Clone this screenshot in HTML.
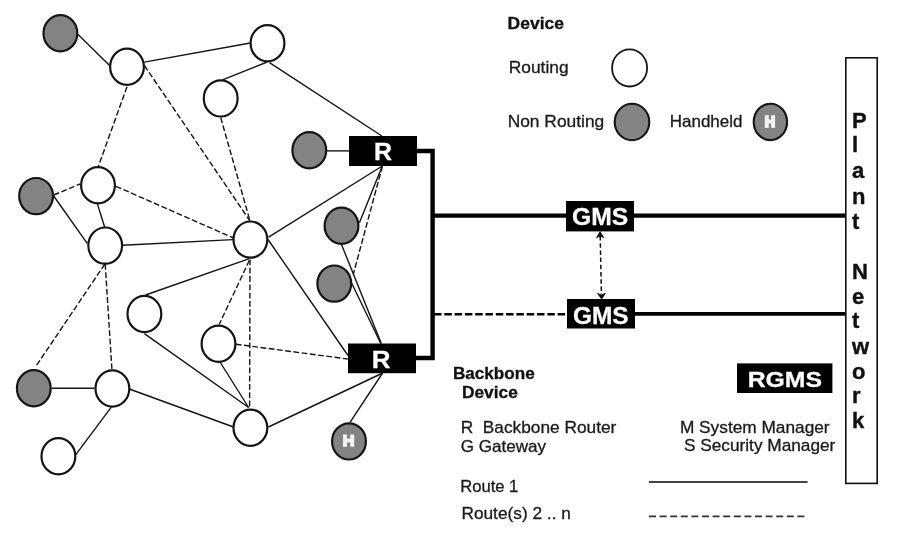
<!DOCTYPE html>
<html><head><meta charset="utf-8"><style>
html,body{margin:0;padding:0;background:#fff;}
body{width:900px;height:536px;overflow:hidden;}
svg{display:block;will-change:transform;}
text{font-family:"Liberation Sans",sans-serif;}
</style></head><body>
<svg width="900" height="536" viewBox="0 0 900 536">
<rect width="900" height="536" fill="#fff"/>
<g stroke="#141414" stroke-width="1.4" fill="none">
<line x1="78.1" y1="34.5" x2="109.3" y2="65.3"/>
<line x1="144.4" y1="62.1" x2="250.3" y2="43.0"/>
<line x1="267.2" y1="62.0" x2="222.5" y2="79.8"/>
<line x1="269.5" y1="62.6" x2="381.9" y2="136.0"/>
<line x1="53.7" y1="196.0" x2="87.2" y2="243.4"/>
<line x1="97.4" y1="203.9" x2="104.7" y2="227.2"/>
<line x1="122.7" y1="245.3" x2="233.0" y2="239.6"/>
<line x1="249.4" y1="258.6" x2="145.5" y2="295.0"/>
<line x1="268.6" y1="237.2" x2="382.3" y2="166.0"/>
<line x1="268.0" y1="239.5" x2="348.0" y2="355.5"/>
<line x1="327.0" y1="150.9" x2="349.0" y2="150.9"/>
<line x1="359.4" y1="222.7" x2="382.3" y2="166.0"/>
<line x1="341.3" y1="244.0" x2="381.3" y2="343.5"/>
<line x1="351.6" y1="283.0" x2="380.8" y2="343.5"/>
<line x1="144.4" y1="333.6" x2="248.6" y2="407.5"/>
<line x1="220.0" y1="362.0" x2="248.6" y2="407.5"/>
<line x1="52.0" y1="388.3" x2="94.5" y2="388.3"/>
<line x1="111.3" y1="407.2" x2="75.8" y2="454.7"/>
<line x1="129.3" y1="389.0" x2="233.5" y2="427.0"/>
<line x1="268.4" y1="427.0" x2="382.8" y2="373.0"/>
<line x1="350.0" y1="422.4" x2="382.6" y2="373.0"/>
<line x1="127.0" y1="86.7" x2="98.4" y2="166.3" stroke-dasharray="5.8 2.5"/>
<line x1="144.4" y1="65.5" x2="250.0" y2="221.0" stroke-dasharray="5.8 2.5"/>
<line x1="220.7" y1="117.5" x2="250.0" y2="221.0" stroke-dasharray="5.8 2.5"/>
<line x1="53.7" y1="195.0" x2="80.0" y2="184.0" stroke-dasharray="5.8 2.5"/>
<line x1="115.9" y1="186.3" x2="233.5" y2="238.0" stroke-dasharray="5.8 2.5"/>
<line x1="249.4" y1="260.2" x2="219.3" y2="324.2" stroke-dasharray="5.8 2.5"/>
<line x1="250.0" y1="259.5" x2="249.6" y2="408.0" stroke-dasharray="5.8 2.5"/>
<line x1="235.8" y1="344.2" x2="347.8" y2="359.0" stroke-dasharray="5.8 2.5"/>
<line x1="104.9" y1="264.0" x2="35.3" y2="367.2" stroke-dasharray="5.8 2.5"/>
<line x1="105.2" y1="264.0" x2="111.9" y2="368.9" stroke-dasharray="5.8 2.5"/>
<line x1="382.5" y1="166.0" x2="353.3" y2="274.2" stroke-dasharray="5.8 2.5"/>
</g>
<g stroke="#141414">
<ellipse cx="60.4" cy="33.3" rx="16.9" ry="18.1" fill="#838383" stroke-width="2.2"/>
<ellipse cx="36.1" cy="196.1" rx="16.9" ry="18.1" fill="#838383" stroke-width="2.2"/>
<ellipse cx="33.8" cy="388.3" rx="16.9" ry="18.1" fill="#838383" stroke-width="2.2"/>
<ellipse cx="309.3" cy="150.3" rx="16.9" ry="18.1" fill="#838383" stroke-width="2.2"/>
<ellipse cx="341.5" cy="225.8" rx="16.9" ry="18.1" fill="#838383" stroke-width="2.2"/>
<ellipse cx="334.3" cy="283.6" rx="16.9" ry="18.1" fill="#838383" stroke-width="2.2"/>
<ellipse cx="349.0" cy="441.4" rx="16.9" ry="18.1" fill="#838383" stroke-width="2.2"/>
<ellipse cx="127.0" cy="66.7" rx="16.9" ry="18.1" fill="#fff" stroke-width="2.2"/>
<ellipse cx="267.5" cy="43.2" rx="16.9" ry="18.1" fill="#fff" stroke-width="2.2"/>
<ellipse cx="220.7" cy="98.4" rx="16.9" ry="18.1" fill="#fff" stroke-width="2.2"/>
<ellipse cx="98.0" cy="185.2" rx="16.9" ry="18.1" fill="#fff" stroke-width="2.2"/>
<ellipse cx="105.2" cy="245.6" rx="16.9" ry="18.1" fill="#fff" stroke-width="2.2"/>
<ellipse cx="250.4" cy="239.6" rx="16.9" ry="18.1" fill="#fff" stroke-width="2.2"/>
<ellipse cx="144.4" cy="314.0" rx="16.9" ry="18.1" fill="#fff" stroke-width="2.2"/>
<ellipse cx="218.5" cy="343.7" rx="16.9" ry="18.1" fill="#fff" stroke-width="2.2"/>
<ellipse cx="112.4" cy="388.5" rx="16.9" ry="18.1" fill="#fff" stroke-width="2.2"/>
<ellipse cx="58.4" cy="456.2" rx="16.9" ry="18.1" fill="#fff" stroke-width="2.2"/>
<ellipse cx="250.4" cy="427.7" rx="16.9" ry="18.1" fill="#fff" stroke-width="2.2"/>
</g>
<rect x="349" y="136" width="68" height="30" fill="#000"/>
<rect x="348" y="343.5" width="68" height="29.7" fill="#000"/>
<polyline points="417,151 432.6,151 432.6,358 416,358" fill="none" stroke="#000" stroke-width="4.4"/>
<line x1="432" y1="215.7" x2="845" y2="215.7" stroke="#000" stroke-width="4.2"/>
<line x1="635" y1="313.8" x2="845" y2="313.8" stroke="#000" stroke-width="3.8"/>
<line x1="434" y1="314.2" x2="567" y2="314.2" stroke="#000" stroke-width="2.4" stroke-dasharray="7.5 2.8"/>
<rect x="566" y="201" width="68" height="30.4" fill="#000"/>
<rect x="567" y="299" width="68" height="29.5" fill="#000"/>
<line x1="600.2" y1="236" x2="601.4" y2="294" stroke="#111" stroke-width="1.5" stroke-dasharray="4.5 2.7"/>
<path d="M600.1 231.7 L596.7 237.5 L600.2 236 L603.6 237.5 Z" fill="#111" stroke="#111" stroke-width="1"/>
<path d="M601.6 298.9 L597.6 293.5 L601.4 295 L605.2 293.5 Z" fill="#111" stroke="#111" stroke-width="1"/>
<rect x="845.8" y="57.8" width="31.4" height="425.6" fill="none" stroke="#111" stroke-width="1.6"/>
<g font-size="22" font-weight="bold" fill="#111" stroke="#111" stroke-width="0.4">
<text x="851.9" y="127.8">P</text>
<text x="851.9" y="152.4">l</text>
<text x="851.9" y="178">a</text>
<text x="851.9" y="204">n</text>
<text x="851.9" y="228.5">t</text>
<text x="851.9" y="279">N</text>
<text x="851.9" y="303.5">e</text>
<text x="851.9" y="328.3">t</text>
<text x="851.9" y="354">w</text>
<text x="851.9" y="378.9">o</text>
<text x="851.9" y="403">r</text>
<text x="851.9" y="428.3">k</text>
</g>
<g stroke="#151515" stroke-width="2.1">
<ellipse cx="629.6" cy="67.9" rx="17.5" ry="18.6" fill="#fff" stroke-width="1.8"/>
<ellipse cx="632" cy="122" rx="17.3" ry="18.2" fill="#838383"/>
<ellipse cx="770.4" cy="121.9" rx="16.7" ry="18.2" fill="#838383"/>
</g>
<rect x="737" y="363.4" width="95.4" height="29.6" fill="#000"/>
<line x1="649" y1="482" x2="807.6" y2="482" stroke="#444" stroke-width="2"/>
<line x1="649" y1="516.4" x2="807.6" y2="516.4" stroke="#333" stroke-width="1.8" stroke-dasharray="7 3.6"/>
<g fill="#f2f2f2">
<rect x="343" y="434.5" width="4" height="12.3"/><rect x="350.2" y="434.5" width="4" height="12.3"/><rect x="346" y="438.6" width="5" height="3.8"/>
<rect x="764.8" y="115.2" width="4" height="12.7"/><rect x="771.1" y="115.2" width="4" height="12.7"/><rect x="768" y="119.5" width="4" height="3.9"/>
</g>

<text transform="translate(507.61 29.0) scale(1.0790 1)" font-size="16.2" font-weight="bold" fill="#111" stroke="#111" stroke-width="0.3">Device</text>
<text transform="translate(508.70 73.4) scale(1.0531 1)" font-size="16.5" fill="#1a1a1a" stroke="#1a1a1a" stroke-width="0.3">Routing</text>
<text transform="translate(507.63 126.6) scale(1.0536 1)" font-size="16.5" fill="#1a1a1a" stroke="#1a1a1a" stroke-width="0.3">Non Routing</text>
<text transform="translate(669.74 126.9) scale(1.0302 1)" font-size="16.5" fill="#1a1a1a" stroke="#1a1a1a" stroke-width="0.3">Handheld</text>
<text transform="translate(452.91 379.0) scale(1.0838 1)" font-size="15.8" font-weight="bold" fill="#111" stroke="#111" stroke-width="0.3">Backbone</text>
<text transform="translate(461.90 398.4) scale(1.0967 1)" font-size="15.8" font-weight="bold" fill="#111" stroke="#111" stroke-width="0.3">Device</text>
<text transform="translate(460.70 432.5) scale(1.0611 1)" font-size="16.3" fill="#1a1a1a" stroke="#1a1a1a" stroke-width="0.3">R  Backbone Router</text>
<text transform="translate(460.76 451.8) scale(1.0474 1)" font-size="16.3" fill="#1a1a1a" stroke="#1a1a1a" stroke-width="0.3">G Gateway</text>
<text transform="translate(679.92 433.0) scale(1.0800 1)" font-size="16.0" fill="#1a1a1a" stroke="#1a1a1a" stroke-width="0.3">M System Manager</text>
<text transform="translate(683.92 451.2) scale(1.0791 1)" font-size="16.0" fill="#1a1a1a" stroke="#1a1a1a" stroke-width="0.3">S Security Manager</text>
<text transform="translate(460.15 492.2) scale(1.0084 1)" font-size="16.5" fill="#1a1a1a" stroke="#1a1a1a" stroke-width="0.3">Route 1</text>
<text transform="translate(461.40 519.2) scale(1.0600 1)" font-size="16.3" fill="#1a1a1a" stroke="#1a1a1a" stroke-width="0.3">Route(s) 2 .. n</text>
<text transform="translate(747.64 387.0) scale(1.1019 1)" font-size="22.5" font-weight="bold" fill="#fff" stroke="#fff" stroke-width="0.3">RGMS</text>
<text transform="translate(571.98 225.0) scale(1.0270 1)" font-size="24.0" font-weight="bold" fill="#fff" stroke="#fff" stroke-width="0.3">GMS</text>
<text transform="translate(572.98 323.7) scale(1.0194 1)" font-size="24.0" font-weight="bold" fill="#fff" stroke="#fff" stroke-width="0.3">GMS</text>
<text transform="translate(373.92 159.8) scale(1.0402 1)" font-size="24.0" font-weight="bold" fill="#fff" stroke="#fff" stroke-width="0.3">R</text>
<text transform="translate(371.84 367.6) scale(1.0799 1)" font-size="24.0" font-weight="bold" fill="#fff" stroke="#fff" stroke-width="0.3">R</text>
</svg></body></html>
